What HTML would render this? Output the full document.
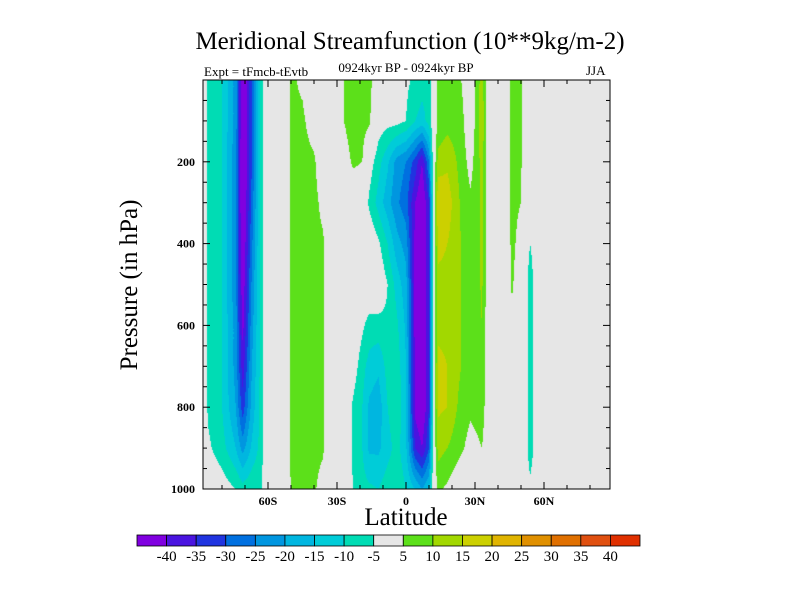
<!DOCTYPE html>
<html><head><meta charset="utf-8"><style>
body{margin:0;background:#fff;width:800px;height:600px;overflow:hidden;font-family:"Liberation Serif",serif}
#root{position:relative;width:800px;height:600px}
.t{position:absolute;white-space:nowrap}
</style></head><body><div id="root">
<div class="t" style="left:0;width:820px;text-align:center;top:28px;font-size:25px">Meridional Streamfunction (10**9kg/m-2)</div>
<div class="t" style="left:204px;top:64px;font-size:13px">Expt = tFmcb-tEvtb</div>
<div class="t" style="left:306px;width:200px;text-align:center;top:60px;font-size:13px">0924kyr BP - 0924kyr BP</div>
<div class="t" style="left:586px;top:63px;font-size:13px">JJA</div>
<div class="t" style="left:130px;top:285px;font-size:25px;transform:translate(-50%,-50%) rotate(-90deg)">Pressure (in hPa)</div>
<div class="t" style="left:306px;width:200px;text-align:center;top:504px;font-size:25px">Latitude</div>
<canvas id="cv" width="407" height="409" style="position:absolute;left:203px;top:80px"></canvas>
<svg id="ax" width="800" height="600" style="position:absolute;left:0;top:0"></svg>
</div>
<script>
const lats=[-88.5,-86,-80,-74,-71,-67,-63,-61,-52,-50,-45,-40,-36,-34.5,-27,-23,-19,-16,-12,-8,-4,0,4,7,10,12,14,18,24,28,31,33,36,44,46,50,51.5,54,57,88.7];
const pressures=[0,100,200,300,400,500,600,700,800,900,1000];
const field=[
[0,0,0,0,0,0,0,0,0,0,0],
[-6,-6,-6,-6,-6,-6,-6,-6,-6,-4,0],
[-10,-10,-10,-10,-10,-10,-10,-10,-10,-8,-2],
[-22,-22,-24,-24,-24,-24,-22,-22,-20,-15,-5],
[-48,-48,-48,-48,-46,-44,-42,-38,-33,-22,-8],
[-30,-30,-30,-28,-26,-24,-22,-20,-18,-14,-6],
[-8,-8,-8,-8,-8,-8,-8,-8,-8,-8,-6],
[0,0,0,0,0,0,0,0,0,0,0],
[0,0,0,0,0,0,0,0,0,0,0],
[6,6,6,7,7,7,7,7,7,7,5],
[4,6,7,7,7,7,7,7,7,7,6],
[0,2,6,7,7,7,7,7,7,7,6],
[0,0,0,3,6,6,6,6,6,6,2],
[0,0,0,0,0,0,0,0,0,0,0],
[5,5,2,0,0,0,0,0,0,0,0],
[8,8,6,0,0,0,0,-2,-6,-6,-5],
[7,7,5,0,0,0,-4,-8,-10,-10,-8],
[6,6,-2,-6,0,0,-7,-12,-16,-16,-9],
[3,-2,-8,-12,-4,0,-7,-14,-18,-16,-10],
[0,-3,-14,-18,-10,-5,-6,-8,-10,-12,-7],
[0,-3,-22,-24,-18,-12,-9,-7,-6,-8,-6],
[-4,-5,-25,-28,-22,-18,-16,-15,-14,-14,-10],
[-6,-10,-32,-40,-42,-42,-42,-42,-42,-35,-15],
[-8,-12,-40,-46,-46,-46,-46,-46,-46,-40,-20],
[-8,-8,-25,-35,-35,-35,-35,-35,-35,-30,-15],
[0,0,0,0,0,0,0,0,0,0,0],
[6,6,12,20,16,14,14,16,16,12,6],
[7,8,14,18,15,14,14,15,15,10,4],
[5,7,8,9,10,10,10,10,8,6,0],
[0,0,3,6,6,6,6,6,6,3,0],
[8,8,8,8,8,8,8,8,7,4,0],
[12,14,12,11,11,11,10,9,8,5,0],
[0,0,0,0,0,0,0,0,0,0,0],
[0,0,0,0,0,0,0,0,0,0,0],
[8,8,7,7,7,6,3,0,0,0,0],
[7,7,6,5,2,0,0,0,0,0,0],
[0,0,0,0,0,0,0,0,0,0,0],
[0,0,0,0,-5,-9,-9,-9,-9,-9,-3],
[0,0,0,0,0,0,0,0,0,0,0],
[0,0,0,0,0,0,0,0,0,0,0]];
const levels=[-40,-35,-30,-25,-20,-15,-10,-5,5,10,15,20,25,30,35,40];
const colors=["#8000e0","#4a14e0","#2034e0","#0070e0","#0096e0","#00b6e0","#00ccd8","#00dcb4","#e6e6e6","#5ce01a","#a2d800","#ccd000","#e0b400","#e09000","#e07000","#e05010","#e03000"];
const latTicks=[-60,-30,0,30,60];
const latLabels=["60S","30S","0","30N","60N"];
const pTicks=[200,400,600,800,1000];

const X0=203,X1=610,Y0=80,Y1=489;
const xs=l=>406+(l)*2.3;
const ys=p=>Y0+(p-pressures[0])/(1000-pressures[0])*(Y1-Y0);
const invx=x=>(x-406)/2.3, invy=y=>(y-Y0)/(Y1-Y0)*1000;
function colIdx(v){let k=0;while(k<levels.length&&v>=levels[k])k++;return k;}
function hex(c){return [parseInt(c.slice(1,3),16),parseInt(c.slice(3,5),16),parseInt(c.slice(5,7),16)];}
const rgb=colors.map(hex);
const cv=document.getElementById('cv'),ctx=cv.getContext('2d');
const img=ctx.createImageData(cv.width,cv.height);
for(let py=0;py<cv.height;py++){
  const p=invy(Y0+py+0.5);
  let j=0;while(j<pressures.length-2&&p>pressures[j+1])j++;
  const tp=Math.min(1,Math.max(0,(p-pressures[j])/(pressures[j+1]-pressures[j])));
  for(let px=0;px<cv.width;px++){
    const l=invx(X0+px+0.5);
    let i=0;while(i<lats.length-2&&l>lats[i+1])i++;
    const tl=Math.min(1,Math.max(0,(l-lats[i])/(lats[i+1]-lats[i])));
    const v=(field[i][j]*(1-tl)+field[i+1][j]*tl)*(1-tp)+(field[i][j+1]*(1-tl)+field[i+1][j+1]*tl)*tp;
    const c=rgb[colIdx(v)];const o=(py*cv.width+px)*4;
    img.data[o]=c[0];img.data[o+1]=c[1];img.data[o+2]=c[2];img.data[o+3]=255;
  }
}
ctx.putImageData(img,0,0);

const svg=document.getElementById('ax');const NS="http://www.w3.org/2000/svg";
function mk(tag,attrs,txt){const e=document.createElementNS(NS,tag);for(const k in attrs)e.setAttribute(k,attrs[k]);if(txt!==undefined)e.textContent=txt;svg.appendChild(e);return e;}
let r=mk('rect',{x:X0,y:Y0,width:X1-X0,height:Y1-Y0,fill:'none',stroke:'#000','stroke-width':1});


for(let p=50;p<1000;p+=50){const y=ys(p),L=(p%200==0)?7:4;
 let a=mk('line',{x1:X0,x2:X0+L,y1:y,y2:y,stroke:'#000'});
 let b=mk('line',{x1:X1,x2:X1-L,y1:y,y2:y,stroke:'#000'});}
for(let l=-80;l<=80;l+=10){const x=xs(l),L=(l%30==0)?7:4;
 let a=mk('line',{x1:x,x2:x,y1:Y1,y2:Y1-L,stroke:'#000'});
 let b=mk('line',{x1:x,x2:x,y1:Y0,y2:Y0+L,stroke:'#000'});}
pTicks.forEach(p=>{let t=mk('text',{x:X0-8,y:ys(p)+4,'text-anchor':'end','font-size':12,'font-weight':'bold','font-family':'Liberation Serif'},p);
 });
latTicks.forEach((l,k)=>{let t=mk('text',{x:xs(l),y:Y1+16,'text-anchor':'middle','font-size':12,'font-weight':'bold','font-family':'Liberation Serif'},latLabels[k]);
 });
const CB0=137,CBW=(640-137)/colors.length,CBY=535,CBH=11;
colors.forEach((c,k)=>{let b=mk('rect',{x:CB0+k*CBW,y:CBY,width:CBW,height:CBH,fill:c,stroke:'#000','stroke-width':0.8});
 });
levels.forEach((v,k)=>{let t=mk('text',{x:CB0+(k+1)*CBW,y:561,'text-anchor':'middle','font-size':15,'font-family':'Liberation Serif'},v);
 });
</script></body></html>
